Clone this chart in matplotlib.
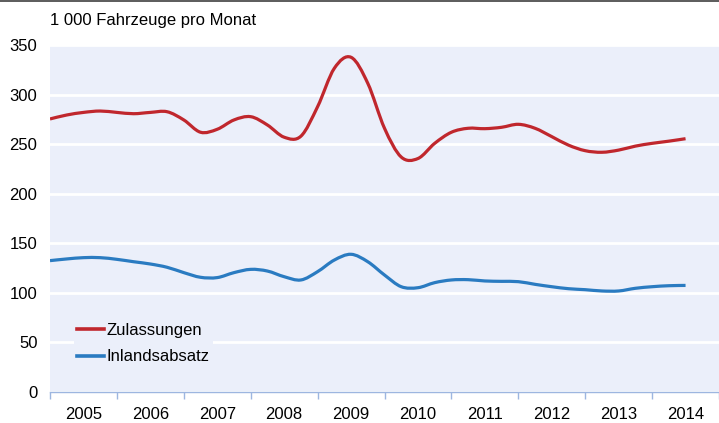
#!/usr/bin/env python3

import numpy as np
import matplotlib
matplotlib.use("Agg")
import matplotlib.pyplot as plt
from matplotlib.path import Path
from matplotlib.patches import PathPatch
from matplotlib.lines import Line2D

# Jahre (Kategorien) und Quartalswerte
years = ["2005", "2006", "2007", "2008", "2009",
         "2010", "2011", "2012", "2013", "2014"]
quarters = np.arange(-0.5, 9.01, 0.25)

zulassungen = [275.4, 279.4, 282.0, 283.4, 282.0, 280.7, 282.0, 282.7,
               274.4, 262.0, 265.0, 274.4, 277.7, 269.3, 257.0, 258.0,
               287.8, 326.5, 337.6, 311.4, 266.0, 237.0, 235.5, 250.8,
               262.0, 266.0, 265.6, 267.0, 270.0, 266.0, 257.6, 249.0,
               243.4, 241.8, 244.0, 248.0, 250.8, 253.0, 255.5]
inlandsabsatz = [132.5, 134.2, 135.5, 135.5, 133.8, 131.4, 129.1, 125.8,
                 120.4, 115.7, 115.4, 120.4, 123.7, 122.0, 116.3, 113.0,
                 121.4, 133.1, 138.9, 131.4, 118.0, 106.2, 105.2, 110.3,
                 113.0, 113.3, 112.0, 111.6, 111.3, 108.6, 106.2, 104.2,
                 103.2, 101.9, 101.9, 104.6, 106.2, 107.2, 107.5]

RED = "#C0272D"
BLUE = "#2A7BC1"
BG = "#EBEFFA"
AXIS = "#9DB6E0"


def smooth_path(x, y):
    # Catmull-Rom -> Bezier, so wie Excel "geglättete Linie"
    pts = np.column_stack([x, y]).astype(float)
    n = len(pts)
    verts = [pts[0]]
    codes = [Path.MOVETO]
    for i in range(n - 1):
        p0 = pts[i - 1] if i > 0 else pts[i]
        p1 = pts[i]
        p2 = pts[i + 1]
        p3 = pts[i + 2] if i + 2 < n else pts[i + 1]
        c1 = p1 + (p2 - p0) / 6.0
        c2 = p2 - (p3 - p1) / 6.0
        verts += [c1, c2, p2]
        codes += [Path.CURVE4] * 3
    return Path(verts, codes)


def main():
    plt.rcParams["font.family"] = ["Liberation Sans", "DejaVu Sans"]

    fig = plt.figure(figsize=(7.19, 4.23), dpi=100)
    ax = fig.add_axes([50 / 719, 1 - 392 / 423, 669 / 719, 347 / 423])
    ax.set_facecolor(BG)

    for vals, col in [(zulassungen, RED), (inlandsabsatz, BLUE)]:
        patch = PathPatch(smooth_path(quarters, vals), facecolor="none",
                          edgecolor=col, lw=2.3, capstyle="butt", zorder=3)
        ax.add_patch(patch)

    ax.set_xlim(-0.5, 9.5)
    ax.set_ylim(0, 350)

    # y-Achse
    ax.set_yticks(range(0, 351, 50))
    ax.tick_params(axis="y", length=0, pad=9, labelsize=12)
    ax.grid(axis="y", color="white", lw=2)
    ax.set_axisbelow(True)

    # x-Achse: Striche zwischen den Jahren, Beschriftung in der Mitte
    ax.set_xticks(np.arange(-0.5, 9.6, 1))
    ax.set_xticklabels([])
    ax.set_xticks(range(len(years)), minor=True)
    ax.set_xticklabels(years, minor=True)
    ax.tick_params(axis="x", which="major", length=5, color=AXIS, width=1)
    ax.tick_params(axis="x", which="minor", length=0, pad=11, labelsize=12)

    for s in ["top", "right", "left"]:
        ax.spines[s].set_visible(False)
    ax.spines["bottom"].set_color(AXIS)
    ax.spines["bottom"].set_linewidth(1)

    handles = [Line2D([], [], color=RED, lw=2.6),
               Line2D([], [], color=BLUE, lw=2.6)]
    leg = ax.legend(handles, ["Zulassungen", "Inlandsabsatz"],
                    loc="lower left", bbox_to_anchor=(0.023, 0.046),
                    frameon=True, facecolor=BG, edgecolor="none",
                    fancybox=False, framealpha=1, fontsize=12,
                    handlelength=1.6, handletextpad=0.15,
                    labelspacing=0.68, borderpad=0.2)
    leg.set_zorder(5)

    fig.text(50 / 719, 1 - 20 / 423, "1 000 Fahrzeuge pro Monat",
             fontsize=12, va="center", ha="left")
    fig.add_artist(Line2D([0, 1], [1 - 1.5 / 423, 1 - 1.5 / 423],
                          color="#404040", lw=1.2,
                          transform=fig.transFigure))

    fig.savefig("out.png", dpi=100)


if __name__ == "__main__":
    main()
